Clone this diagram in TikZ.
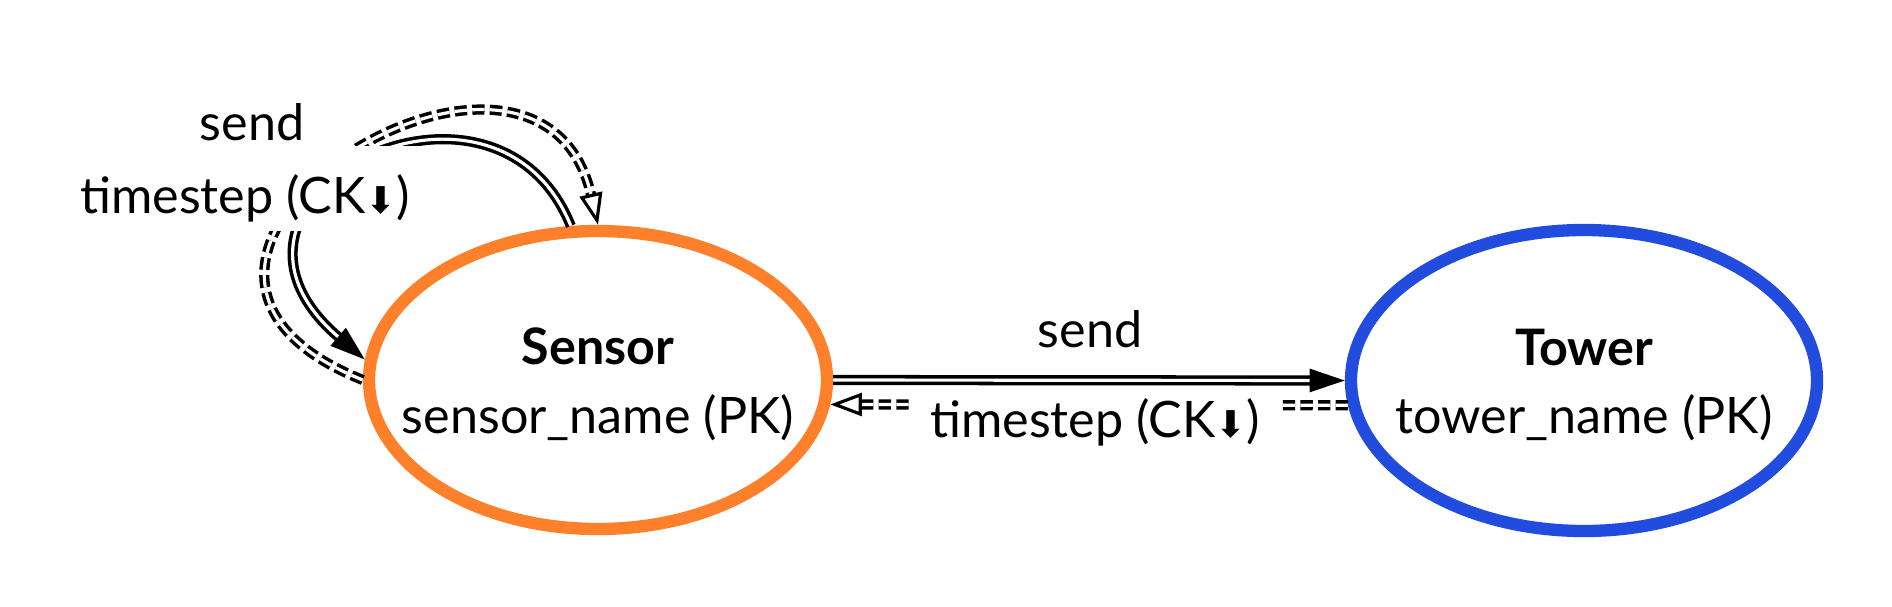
\documentclass[tikz,border=0pt]{standalone}
\usepackage{fontspec}
\setmainfont{Lato}
\newfontfamily\arrowfont{DejaVu Sans}
\usetikzlibrary{shapes.geometric, arrows.meta, positioning}
\definecolor{sensororange}{RGB}{255, 128, 42}
\definecolor{towerblue}{RGB}{33, 76, 222}
\newcommand{\ckdown}{{\arrowfont\fontsize{10.5}{10.5}\selectfont ⬇}}

\begin{document}
\begin{tikzpicture}[
  x=1cm,
  y=1cm,
  font=\fontsize{14.3}{19.6}\selectfont,
  entity/.style={ellipse, draw, line width=3.5pt, fill=white},
  rel/.style={draw, line width=1pt, double, double distance=0.9pt},
  reldash/.style={rel, dash pattern=on 3.5pt off 1.5pt},
  lbl/.style={fill=white, inner xsep=6pt, inner ysep=0pt},
  solidtip/.style={-{Triangle[length=10pt, width=6.5pt, line width=0.9pt]}},
  opentip/.style={-{Triangle[open, length=9pt, width=6.5pt, line width=0.9pt]}}
]

\useasboundingbox (0,0) rectangle (18.92,-6.06);

\node[entity, draw=sensororange, minimum width=4.58cm, minimum height=2.98cm]
      (sensor) at (5.98,-3.80) {};
\node[entity, draw=towerblue, minimum width=4.66cm, minimum height=3.01cm]
      (tower) at (15.84,-3.805) {};

\node[align=center] (sensortxt) at ([yshift=-0.045cm]sensor.center)
      {\textbf{Sensor}\\sensor\_name (PK)};
\node[align=center] (towertxt) at ([yshift=-0.045cm]tower.center)
      {\textbf{Tower}\\tower\_name (PK)};

% sensor -> tower
\draw[rel, solidtip] (sensor.east) -- (tower.west);
\draw[reldash, opentip] (tower.186) -- (sensor.354);

% self loop on sensor
\draw[rel, solidtip] (sensor.100)
  .. controls +(112:2.05) and +(139.5:2.5) .. (sensor.175);
\draw[reldash, opentip] (sensor.west)
  .. controls +(158.2:3.23) and +(103:2.67) .. (sensor.north);

\node[lbl, anchor=base] (sendlbl) at (10.90,-3.47) {send};
\node[lbl, anchor=base, text height=12pt] (tslbl) at (10.95,-4.37)
      {timestep (CK\ckdown)};

\node[lbl, anchor=base] (loopsend) at (2.52,-1.40) {send};
\node[lbl, anchor=base, text height=19pt, text depth=5pt] (loopts)
      at (2.45,-2.13) {timestep (CK\ckdown)};

\end{tikzpicture}
\end{document}
